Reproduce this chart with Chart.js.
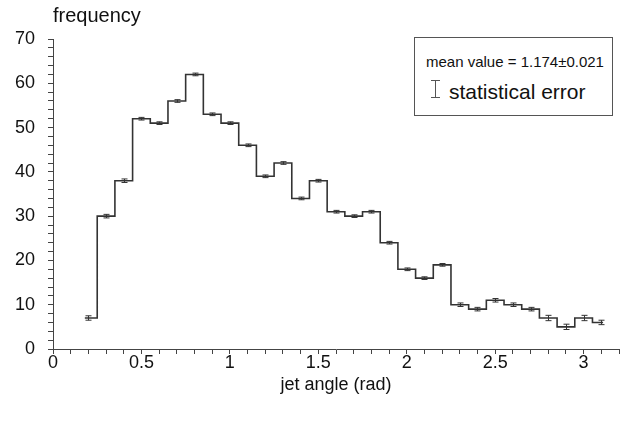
<!DOCTYPE html>
<html>
<head>
<meta charset="utf-8">
<script src="https://cdn.jsdelivr.net/npm/chart.js@4.4.1/dist/chart.umd.min.js"></script>
<style>
  body{margin:0;background:#fff;font-family:"Liberation Sans",Arial,Helvetica,sans-serif;color:#111}
  #wrap{position:relative;width:621px;height:421px}
  #ytitle{position:absolute;left:53px;top:3px;font-size:20px;line-height:24px}
  #legendBox{position:absolute;left:414px;top:37px;width:197px;height:77px;border:1px solid #555;background:#fff}
  #meanTxt{position:absolute;left:11px;top:15px;font-size:15px;line-height:18px;white-space:nowrap}
  #ibeam{position:absolute;left:16px;top:42px;width:9px;height:18px;border-top:1px solid #555;border-bottom:1px solid #555;box-sizing:border-box}
  #ibeam:after{content:"";position:absolute;left:4px;top:0;width:1px;height:100%;background:#555}
  #errTxt{position:absolute;left:34px;top:41px;font-size:21px;line-height:25px;white-space:nowrap}
</style>
</head>
<body>
<div id="wrap">
  <canvas id="histo"></canvas>
  <div id="ytitle">frequency</div>
  <div id="legendBox">
    <span id="meanTxt">mean value = 1.174&plusmn;0.021</span>
    <div id="ibeam"></div>
    <span id="errTxt">statistical error</span>
  </div>
</div>
<script>
// bin centres (rad), width 0.1; first and last bin are cut
var binCenters=[0.2,0.3,0.4,0.5,0.6,0.7,0.8,0.9,1.0,1.1,1.2,1.3,1.4,1.5,1.6,1.7,1.8,1.9,2.0,2.1,2.2,2.3,2.4,2.5,2.6,2.7,2.8,2.9,3.0,3.1]
var counts=[7,30,38,52,51,56,62,53,51,46,39,42,34,38,31,30,31,24,18,16,19,10,9,11,10,9,7,5,7,6]
var errors=[0.5,0.4,0.4,0.3,0.3,0.3,0.3,0.3,0.3,0.3,0.3,0.3,0.3,0.3,0.3,0.3,0.3,0.3,0.3,0.3,0.3,0.4,0.4,0.4,0.4,0.4,0.6,0.6,0.6,0.5]
var binWidth=0.1
var lowCut=0.18
var highCut=3.11
var xTickLabels=["0","0.5","1","1.5","2","2.5","3"]
var yTickLabels=["0","10","20","30","40","50","60","70"]

// step outline: left edge of every bin, plus the final right edge
var outline=[]
for(let i=0;i<binCenters.length;i++){
  outline.push({x:Math.max(lowCut,binCenters[i]-binWidth/2),y:counts[i]})
}
outline.push({x:highCut,y:counts[counts.length-1]})

const errorBars={
  id:'errorBars',
  afterDatasetsDraw(chart){
    const ctx=chart.ctx
    const xs=chart.scales.x, ys=chart.scales.y
    ctx.save()
    ctx.strokeStyle='#333'
    ctx.lineWidth=1
    for(let i=0;i<binCenters.length;i++){
      const px=Math.round(xs.getPixelForValue(binCenters[i]))+0.5
      const top=ys.getPixelForValue(counts[i]+errors[i])
      const bot=ys.getPixelForValue(counts[i]-errors[i])
      ctx.beginPath()
      ctx.moveTo(px,top);ctx.lineTo(px,bot)
      ctx.moveTo(px-3,top);ctx.lineTo(px+3,top)
      ctx.moveTo(px-3,bot);ctx.lineTo(px+3,bot)
      ctx.stroke()
    }
    ctx.restore()
  }
}

function near(v,step){ return Math.abs(v/step-Math.round(v/step))<1e-6 }

const config={
  type:'line',
  data:{
    datasets:[{
      data:outline,
      stepped:true,
      borderColor:'#333',
      borderWidth:1.6,
      pointRadius:0,
      fill:false
    }]
  },
  options:{
    responsive:true,
    maintainAspectRatio:false,
    animation:false,
    layout:{padding:{top:39,right:2,bottom:0,left:0}},
    plugins:{legend:{display:false},tooltip:{enabled:false}},
    scales:{
      x:{
        type:'linear',min:0,max:3.2,
        afterFit:function(s){ s.height=72 },
        border:{display:true,color:'#444',width:1},
        grid:{drawOnChartArea:false,drawTicks:true,tickLength:5,tickColor:'#444'},
        ticks:{
          stepSize:0.1,autoSkip:false,maxRotation:0,padding:-2,color:'#111',
          font:{family:'"Liberation Sans", Arial, sans-serif',size:18},
          callback:function(v){
            if(!near(v,0.5)) return ''
            return xTickLabels[Math.round(v/0.5)]
          }
        },
        title:{display:true,text:'jet angle (rad)',color:'#111',
          font:{family:'"Liberation Sans", Arial, sans-serif',size:18},
          padding:{top:0,bottom:25}}
      },
      y:{
        min:0,max:70,
        afterFit:function(s){ s.width=53 },
        border:{display:true,color:'#444',width:1},
        grid:{drawOnChartArea:false,drawTicks:true,tickLength:5,tickColor:'#444'},
        ticks:{
          stepSize:2,autoSkip:false,padding:13,color:'#111',
          font:{family:'"Liberation Sans", Arial, sans-serif',size:18},
          callback:function(v){
            if(!near(v,10)) return ''
            return yTickLabels[Math.round(v/10)]
          }
        }
      }
    }
  },
  plugins:[errorBars]
}

const histoZone=document.getElementById("histo")
const graphe=new Chart(histoZone,config)
</script>
</body>
</html>
